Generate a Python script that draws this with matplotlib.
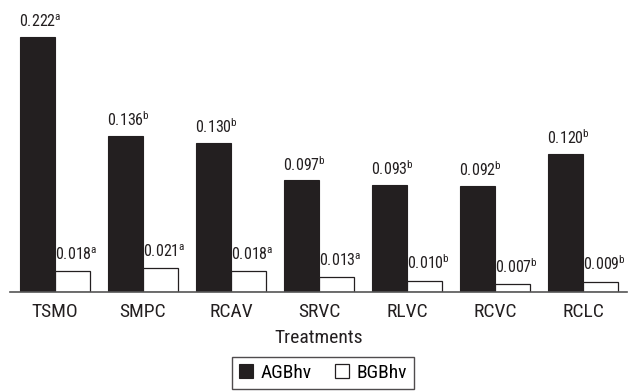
import matplotlib
matplotlib.use("Agg")
import matplotlib.pyplot as plt
import numpy as np

plt.rcParams["font.family"] = ["Roboto Condensed", "Liberation Sans", "DejaVu Sans"]
plt.rcParams["mathtext.fontset"] = "custom"
plt.rcParams["mathtext.rm"] = "Roboto Condensed"
plt.rcParams["mathtext.it"] = "Roboto Condensed"

treatments = ["TSMO", "SMPC", "RCAV", "SRVC", "RLVC", "RCVC", "RCLC"]
agb = [0.222, 0.136, 0.130, 0.097, 0.093, 0.092, 0.120]
bgb = [0.018, 0.021, 0.018, 0.013, 0.010, 0.007, 0.009]
agb_letters = ["a", "b", "b", "b", "b", "b", "b"]
bgb_letters = ["a", "a", "a", "a", "b", "b", "b"]

fig = plt.figure(figsize=(6.35, 3.92), dpi=100)
ax = fig.add_axes([10 / 635, 100 / 392, 617 / 635, 292 / 392])

x = np.arange(len(treatments))
w = 0.4
ax.bar(x - w / 2, agb, w, color="#231f20", edgecolor="#231f20", linewidth=0.8, label="AGBhv")
ax.bar(x + w / 2, bgb, w, color="white", edgecolor="#231f20", linewidth=0.9, label="BGBhv")

for i in range(len(x)):
    ax.annotate(f"{agb[i]:.3f}$^{{\\mathrm{{{agb_letters[i]}}}}}$", (x[i] - w / 2, agb[i]),
                xytext=(2, 5), textcoords="offset points", ha="center", va="bottom",
                fontsize=11.5, color="#231f20")
    ax.annotate(f"{bgb[i]:.3f}$^{{\\mathrm{{{bgb_letters[i]}}}}}$", (x[i], bgb[i]),
                xytext=(0, 6), textcoords="offset points", ha="left", va="bottom",
                fontsize=11.5, color="#231f20")

ax.set_xlim(-0.51, 6.5)
ax.set_ylim(0, 0.254)
ax.set_xticks(x)
ax.set_xticklabels(treatments, fontsize=14, color="#231f20")
ax.tick_params(axis="x", length=0, pad=8)
ax.set_yticks([])
for side in ["left", "right", "top"]:
    ax.spines[side].set_visible(False)
ax.spines["bottom"].set_color("#555555")
ax.spines["bottom"].set_linewidth(1.2)
ax.set_xlabel("Treatments", fontsize=14, color="#231f20", labelpad=6)

leg = fig.legend(loc="upper center", bbox_to_anchor=(323 / 635, 35 / 392), ncol=2,
                 fontsize=14, frameon=True, fancybox=False, handlelength=0.7,
                 handleheight=0.7, handletextpad=0.4, columnspacing=1.2,
                 borderpad=0.35, borderaxespad=0)
leg.get_frame().set_edgecolor("#231f20")
leg.get_frame().set_linewidth(1.0)

fig.savefig("out.png", dpi=100)
